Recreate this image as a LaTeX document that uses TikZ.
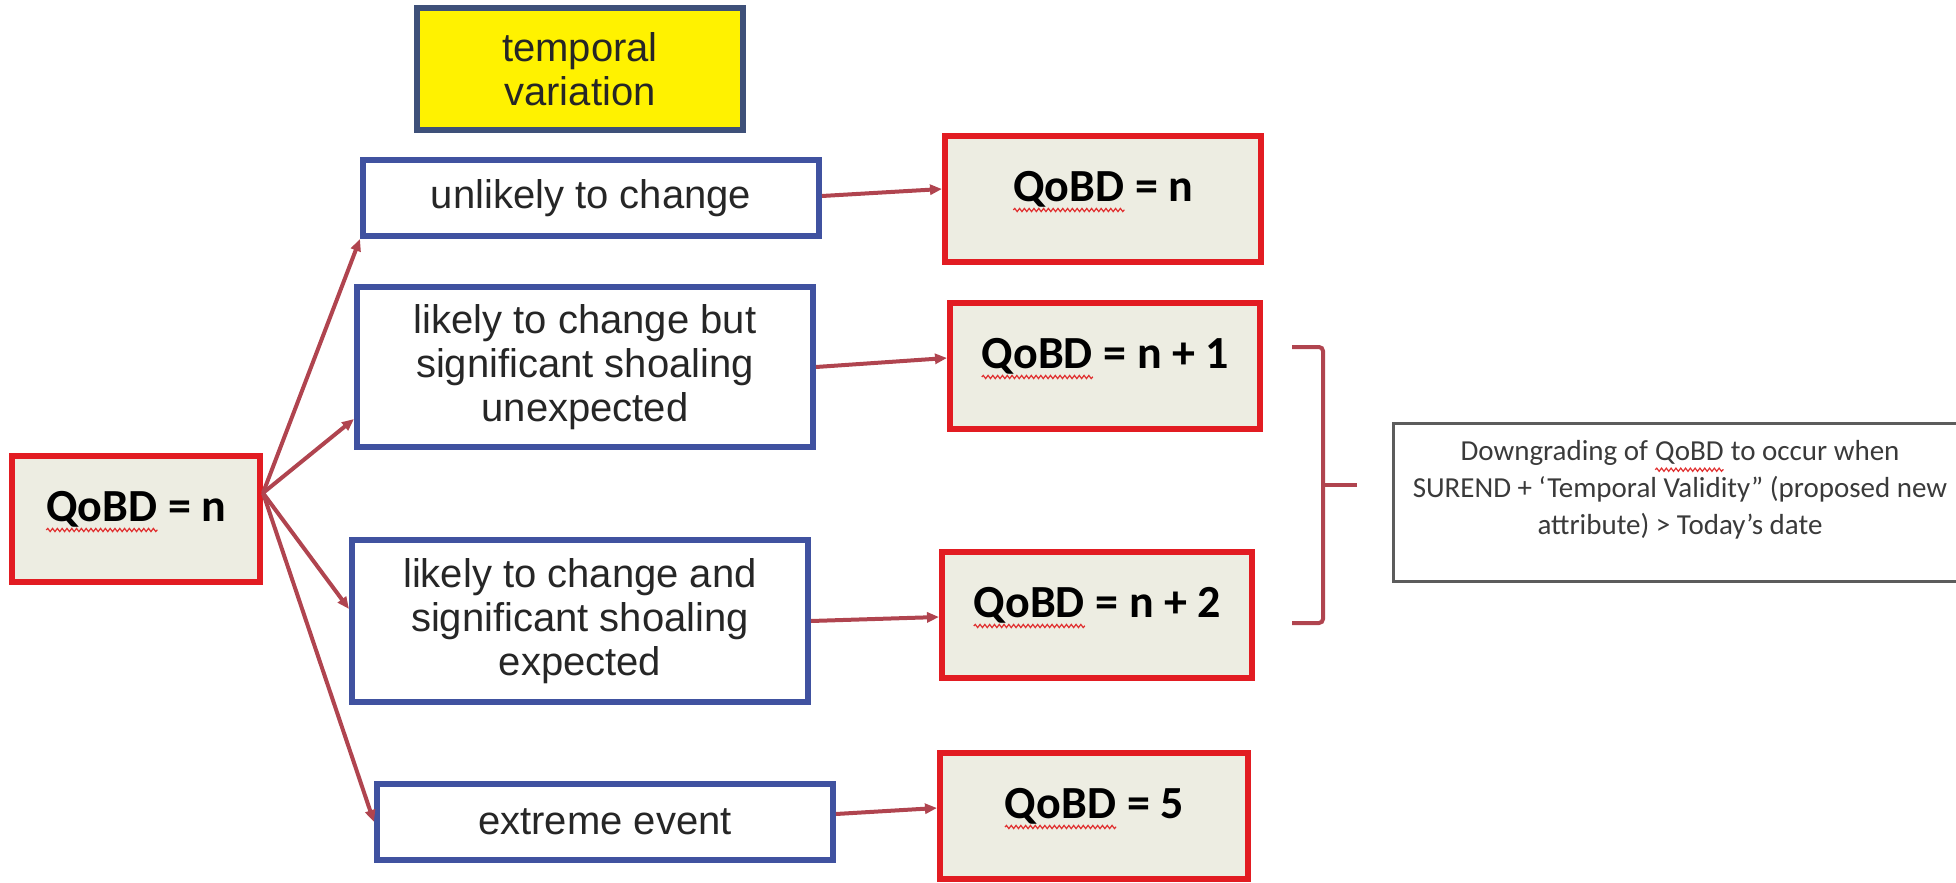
\documentclass[tikz,border=0pt]{standalone}
\usepackage{fontspec}
\setmainfont{Liberation Sans}
\newfontfamily\calibri{Carlito}
\usetikzlibrary{arrows.meta,decorations.pathmorphing}

\definecolor{qred}{HTML}{E21C22}
\definecolor{qfill}{HTML}{EDEDE2}
\definecolor{vblue}{HTML}{4052A0}
\definecolor{tframe}{HTML}{3E5079}
\definecolor{flowred}{HTML}{B0444F}
\definecolor{notegrey}{HTML}{5C5C5C}
\definecolor{notetext}{HTML}{3A3A3A}
\definecolor{spellred}{HTML}{E03030}

\newcommand\spellmark[1]{\tikz[baseline=(sw.base)]{%
  \node[inner sep=0pt, outer sep=0pt, text height=, text depth=, minimum size=0pt] (sw) {#1};
  \draw[spellred, line width=0.6pt, decorate, decoration={snake, amplitude=0.8pt, segment length=2.4pt}]
    ([yshift=-4.5pt]sw.base west) -- ([yshift=-4.5pt]sw.base east);}}

\begin{document}
\begin{tikzpicture}[x=0.5pt, y=-0.5pt,
  qbox/.style={draw=qred, fill=qfill, line width=3pt, inner sep=0pt,
    minimum width=155pt, minimum height=63pt, text height=15pt, text depth=13pt,
    font=\calibri\bfseries\fontsize{23}{26}\selectfont},
  vbox/.style={draw=vblue, fill=white, line width=3pt, align=center,
    minimum width=228pt, font=\fontsize{20}{22}\selectfont, text=black!85},
  flow/.style={draw=flowred, line width=2pt, -{Triangle[length=6pt,width=5pt]}},
  bracket/.style={draw=flowred, line width=2pt, rounded corners=2pt}]

\useasboundingbox (0,0) rectangle (1956,883);

\node[qbox, minimum width=124pt] (src) at (136,519) {\spellmark{QoBD} = n};
\node[vbox, fill=yellow, draw=tframe, minimum width=163pt, minimum height=61pt] (temporal) at (580,69) {temporal\\variation};
\node[vbox, minimum height=38pt] (unlikely) at (591,198) {unlikely to change};
\node[vbox, minimum height=80pt] (likelybut) at (585,367) {likely to change but\\significant shoaling\\unexpected};
\node[vbox, minimum height=81pt] (likelyand) at (580,621) {likely to change and\\significant shoaling\\expected};
\node[vbox, minimum height=38pt] (extreme) at (605,822) {extreme event};

\node[qbox, minimum width=158pt] (qn) at (1103,199) {\spellmark{QoBD} = n};
\node[qbox] (qone) at (1105,366) {\spellmark{QoBD} = n + 1};
\node[qbox] (qtwo) at (1097,615) {\spellmark{QoBD} = n + 2};
\node[qbox, minimum width=154pt] (qfive) at (1094,816) {\spellmark{QoBD} = 5};

\node[draw=notegrey, line width=1.5pt, minimum width=291pt, minimum height=79pt] (note) at (1684,502) {};
\node[align=center, text=notetext, font=\calibri\fontsize{14.5}{18.5}\selectfont] (notelabel) at (1680,490) {Downgrading of \spellmark{QoBD} to occur when\\SUREND + ‘Temporal Validity” (proposed new\\attribute) > Today’s date};

\coordinate (fan) at ([yshift=13pt]src.east);
\draw[flow] (fan) -- (unlikely.south west);
\draw[flow] (fan) -- ([yshift=-26pt]likelybut.west);
\draw[flow] (fan) -- ([yshift=6pt]likelyand.west);
\draw[flow] (fan) -- (extreme.west);

\draw[flow] ([yshift=1pt]unlikely.east) -- ([yshift=5pt]qn.west);
\draw[flow] (likelybut.east) -- ([yshift=4pt]qone.west);
\draw[flow] (likelyand.east) -- ([yshift=-1pt]qtwo.west);
\draw[flow] ([yshift=4pt]extreme.east) -- ([yshift=4pt]qfive.west);

\coordinate (brtop) at (1292,347);
\coordinate (brbot) at (1292,623);
\coordinate (brtip) at (1357,485);
\draw[bracket] (brtop) -- ++(31,0) |- (brbot);
\draw[bracket] (brtip) -- ++(-34,0);
\end{tikzpicture}
\end{document}
